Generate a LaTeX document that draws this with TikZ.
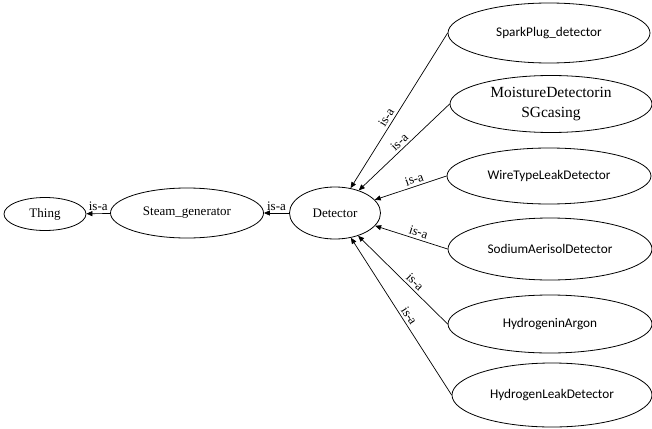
\documentclass[tikz,border=0pt]{standalone}
\usepackage{fontspec}
\setmainfont{Liberation Serif}
\newfontfamily\calfont{Carlito}
\usetikzlibrary{shapes.geometric,arrows.meta}
\begin{document}
\begin{tikzpicture}[x=1pt,y=-1pt,
  cls/.style={draw=black, line width=0.8pt, ellipse, inner sep=0pt,
    font=\fontsize{13}{16}\selectfont, align=center},
  sanscls/.style={cls, font=\calfont\fontsize{13.25}{16}\selectfont},
  isa/.style={draw=black, line width=0.7pt, -{Triangle[length=6pt,width=5pt]}},
  lbl/.style={font=\fontsize{13}{14}\selectfont, inner sep=2.5pt}]
\useasboundingbox (0,0) rectangle (652,428);

% class nodes
\node[cls, minimum width=82pt, minimum height=33pt] (thing) at (45,214) {Thing};
\node[cls, minimum width=153pt, minimum height=50pt] (steam) at (187,213) {Steam\_generator};
\node[cls, minimum width=91pt, minimum height=52pt] (det) at (335,213) {Detector};

\node[sanscls, minimum width=202pt, minimum height=60pt] (spark) at (549,33) {SparkPlug\_detector};
\node[cls, minimum width=202pt, minimum height=57pt, font=\fontsize{15.5}{20}\selectfont] (moist) at (551,104) {MoistureDetectorin\\SGcasing};
\node[sanscls, minimum width=204pt, minimum height=56pt] (wire) at (549,176) {WireTypeLeakDetector};
\node[sanscls, minimum width=204pt, minimum height=62pt] (sodium) at (550,249) {SodiumAerisolDetector};
\node[sanscls, minimum width=204pt, minimum height=58pt] (argon) at (550,324) {HydrogeninArgon};
\node[sanscls, minimum width=200pt, minimum height=64pt] (leak) at (552,395) {HydrogenLeakDetector};

% is-a relations
\draw[isa] (steam) -- node[lbl, above] {is-a} (thing);
\draw[isa] (det) -- node[lbl, above] {is-a} (steam);
\draw[isa] (spark.west) -- node[lbl, above, sloped, pos=0.57] {is-a} (det);
\draw[isa] (moist.west) -- node[lbl, above, sloped, pos=0.5] {is-a} (det);
\draw[isa] (wire.west) -- node[lbl, above, sloped, pos=0.42] {is-a} (det);
\draw[isa] (sodium.west) -- node[lbl, above, sloped, pos=0.43] {is-a} (det);
\draw[isa] (argon.west) -- node[lbl, above, sloped, pos=0.42] {is-a} (det);
\draw[isa] (leak.west) -- node[lbl, above, sloped, pos=0.48] {is-a} (det);
\end{tikzpicture}
\end{document}
